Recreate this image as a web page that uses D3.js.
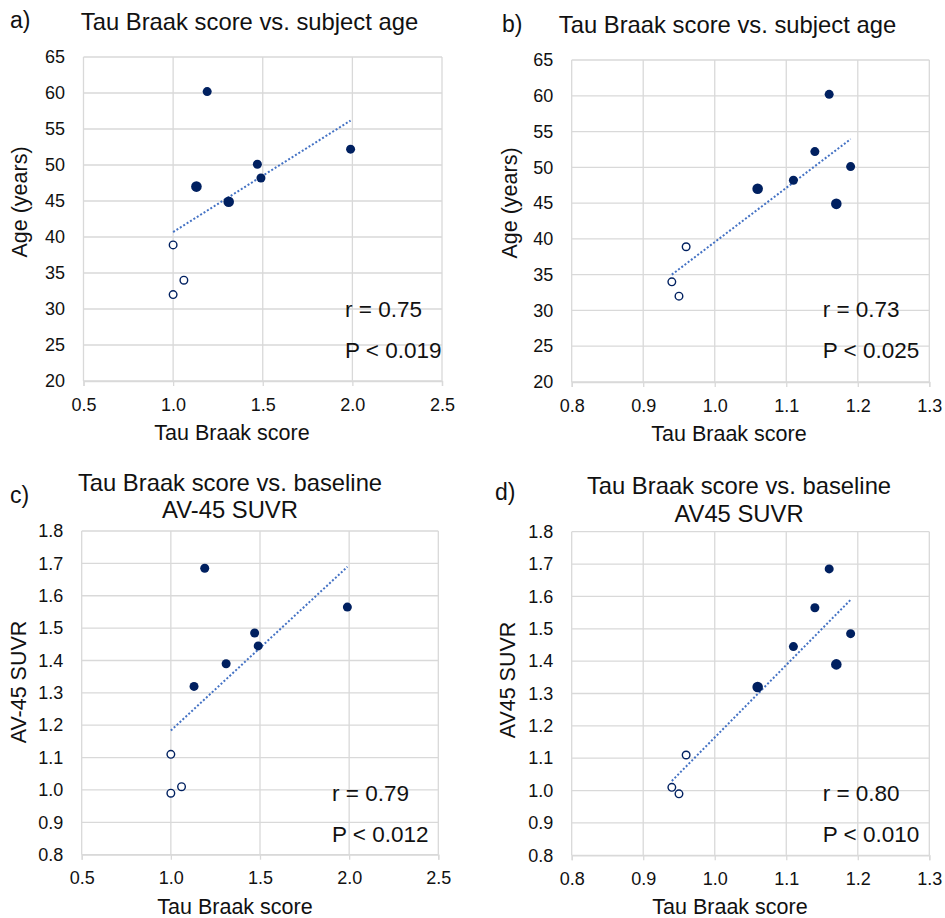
<!DOCTYPE html>
<html>
<head>
<meta charset="utf-8">
<script src="https://cdn.jsdelivr.net/npm/d3@7"></script>
<style>
  html, body { margin: 0; padding: 0; background: #fff; }
  svg { display: block; font-family: "Liberation Sans", Arial, sans-serif; }
</style>
</head>
<body>
<div id="chart"></div>
<script>
// ---------------- DATA ----------------
// Tau Braak score (method used in panels a and c)
const tauBraakAC = [1.19, 1.99, 1.47, 1.49, 1.13, 1.31, 1.00, 1.06, 1.00];
// Tau Braak score (method used in panels b and d)
const tauBraakBD = [1.16, 1.14, 1.19, 1.11, 1.06, 1.17, 0.96, 0.94, 0.95];
// Subject age (years)
const ageYears = [60.2, 52.2, 50.1, 48.2, 47.0, 44.9, 38.9, 34.0, 32.0];
// Baseline AV-45 SUVR
const av45Suvr = [1.685, 1.565, 1.485, 1.445, 1.32, 1.39, 1.11, 1.01, 0.99];
// Filled marker (true) vs open marker (false)
const filledMarker = [true, true, true, true, true, true, false, false, false];

// Tick values
const xTicksWide = [0.5, 1.0, 1.5, 2.0, 2.5];
const xTicksNarrow = [0.8, 0.9, 1.0, 1.1, 1.2, 1.3];
const ageTicks = [20, 25, 30, 35, 40, 45, 50, 55, 60, 65];
const suvrTicks = [0.8, 0.9, 1.0, 1.1, 1.2, 1.3, 1.4, 1.5, 1.6, 1.7, 1.8];

// Texts
const panelLabels = ["a)", "b)", "c)", "d)"];
const panelTitles = [
  ["Tau Braak score vs. subject age"],
  ["Tau Braak score vs. subject age"],
  ["Tau Braak score vs. baseline", "AV-45 SUVR"],
  ["Tau Braak score vs. baseline", "AV45 SUVR"]
];
const yTitles = ["Age (years)", "Age (years)", "AV-45 SUVR", "AV45 SUVR"];
const xTitle = "Tau Braak score";
const rTexts = ["r = 0.75", "r = 0.73", "r = 0.79", "r = 0.80"];
const pTexts = ["P < 0.019", "P < 0.025", "P < 0.012", "P < 0.010"];

// ---------------- STYLE / LAYOUT ----------------
const W = 945, H = 918;
const C = {
  dot: "#002060", trend: "#4472c4", grid: "#d9d9d9", text: "#111"
};
const layout = [
  { plot: {l: 83.5, r: 442, t: 57, b: 381}, label: [10, 28], title: [249.5, [30]],
    yTitle: [20, 202], xTitleX: 232, stat: [345, 317, 358], bigMarkers: [4, 5] },
  { plot: {l: 571.7, r: 929.3, t: 60, b: 382}, label: [502, 32], title: [727.5, [33]],
    yTitle: [510, 203], xTitleX: 729, stat: [822.7, 317, 358], bigMarkers: [4, 5] },
  { plot: {l: 81.7, r: 438.3, t: 531, b: 854.7}, label: [10, 503], title: [230, [491, 518]],
    yTitle: [19, 682], xTitleX: 235, stat: [332, 800.7, 841.7], bigMarkers: [] },
  { plot: {l: 571.7, r: 929.3, t: 531.7, b: 855.3}, label: [495, 500], title: [739, [494, 522]],
    yTitle: [508, 680], xTitleX: 730, stat: [822.7, 800.7, 841.7], bigMarkers: [4, 5] }
];

const panelData = [
  { x: tauBraakAC, y: ageYears, xDomain: [0.5, 2.5], xTicks: xTicksWide, yDomain: [20, 65], yTicks: ageTicks, yFmt: d3.format("d") },
  { x: tauBraakBD, y: ageYears, xDomain: [0.8, 1.3], xTicks: xTicksNarrow, yDomain: [20, 65], yTicks: ageTicks, yFmt: d3.format("d") },
  { x: tauBraakAC, y: av45Suvr, xDomain: [0.5, 2.5], xTicks: xTicksWide, yDomain: [0.8, 1.8], yTicks: suvrTicks, yFmt: d3.format(".1f") },
  { x: tauBraakBD, y: av45Suvr, xDomain: [0.8, 1.3], xTicks: xTicksNarrow, yDomain: [0.8, 1.8], yTicks: suvrTicks, yFmt: d3.format(".1f") }
];

// ---------------- DRAW ----------------
const svg = d3.select("#chart").append("svg")
  .attr("width", W).attr("height", H).attr("viewBox", `0 0 ${W} ${H}`);

function linReg(xs, ys) {
  const mx = d3.mean(xs), my = d3.mean(ys);
  let sxy = 0, sxx = 0;
  xs.forEach((x, i) => { sxy += (x - mx) * (ys[i] - my); sxx += (x - mx) * (x - mx); });
  const slope = sxy / sxx;
  return { slope, intercept: my - slope * mx };
}

panelData.forEach((pd, pi) => {
  const L = layout[pi];
  const p = L.plot;
  const big = new Set(L.bigMarkers);
  const g = svg.append("g");
  const x = d3.scaleLinear().domain(pd.xDomain).range([p.l, p.r]);
  const y = d3.scaleLinear().domain(pd.yDomain).range([p.b, p.t]);

  // gridlines
  g.append("g").selectAll("line.v").data(pd.xTicks).join("line")
    .attr("x1", d => x(d)).attr("x2", d => x(d)).attr("y1", p.t).attr("y2", p.b)
    .attr("stroke", C.grid).attr("stroke-width", 1.3);
  g.append("g").selectAll("line.h").data(pd.yTicks).join("line")
    .attr("x1", p.l).attr("x2", p.r).attr("y1", d => y(d)).attr("y2", d => y(d))
    .attr("stroke", C.grid).attr("stroke-width", 1.3);

  // x axis (tick marks below + labels)
  const xa = g.append("g").attr("transform", `translate(0,${p.b})`)
    .call(d3.axisBottom(x).tickValues(pd.xTicks).tickFormat(d3.format(".1f")).tickSize(5).tickPadding(12));
  xa.select(".domain").attr("stroke", C.grid).attr("stroke-width", 1.3);
  xa.selectAll(".tick line").attr("stroke", C.grid).attr("stroke-width", 1.3);
  xa.selectAll(".tick text").attr("font-size", 18).attr("fill", C.text)
    .attr("font-family", "Liberation Sans, Arial, sans-serif");

  // y axis labels
  const ya = g.append("g").attr("transform", `translate(${p.l},0)`)
    .call(d3.axisLeft(y).tickValues(pd.yTicks).tickFormat(pd.yFmt).tickSize(0).tickPadding(18.5));
  ya.select(".domain").remove();
  ya.selectAll(".tick text").attr("font-size", 18).attr("fill", C.text)
    .attr("font-family", "Liberation Sans, Arial, sans-serif");

  // trend line (least squares over all points, from min x to max x)
  const reg = linReg(pd.x, pd.y);
  const xr = d3.extent(pd.x);
  g.append("line")
    .attr("x1", x(xr[0])).attr("y1", y(reg.intercept + reg.slope * xr[0]))
    .attr("x2", x(xr[1])).attr("y2", y(reg.intercept + reg.slope * xr[1]))
    .attr("stroke", C.trend).attr("stroke-width", 2).attr("stroke-dasharray", "2,2");

  // points
  const pts = pd.x.map((v, i) => ({ x: v, y: pd.y[i], filled: filledMarker[i], big: big.has(i) }));
  g.append("g").selectAll("circle").data(pts).join("circle")
    .attr("cx", d => x(d.x)).attr("cy", d => y(d.y))
    .attr("r", d => d.filled ? (d.big ? 5.3 : 4.5) : 3.8)
    .attr("fill", d => d.filled ? C.dot : "#fff")
    .attr("stroke", C.dot).attr("stroke-width", d => d.filled ? 0 : 1.4);

  // panel label
  g.append("text").attr("x", L.label[0]).attr("y", L.label[1])
    .attr("font-size", 23).attr("fill", C.text).text(panelLabels[pi]);

  // title
  panelTitles[pi].forEach((t, k) => {
    g.append("text").attr("x", L.title[0]).attr("y", L.title[1][k])
      .attr("text-anchor", "middle").attr("font-size", 23.8).attr("fill", C.text).text(t);
  });

  // axis titles
  g.append("text").attr("transform", `translate(${L.yTitle[0]},${L.yTitle[1]}) rotate(-90)`)
    .attr("text-anchor", "middle").attr("dominant-baseline", "central")
    .attr("font-size", 21.5).attr("fill", C.text).text(yTitles[pi]);
  g.append("text").attr("x", L.xTitleX).attr("y", p.b + 59)
    .attr("text-anchor", "middle").attr("font-size", 21.5).attr("fill", C.text).text(xTitle);

  // stats
  g.append("text").attr("x", L.stat[0]).attr("y", L.stat[1])
    .attr("font-size", 22.5).attr("fill", C.text).text(rTexts[pi]);
  g.append("text").attr("x", L.stat[0]).attr("y", L.stat[2])
    .attr("font-size", 22.5).attr("fill", C.text).text(pTexts[pi]);
});
</script>
</body>
</html>
